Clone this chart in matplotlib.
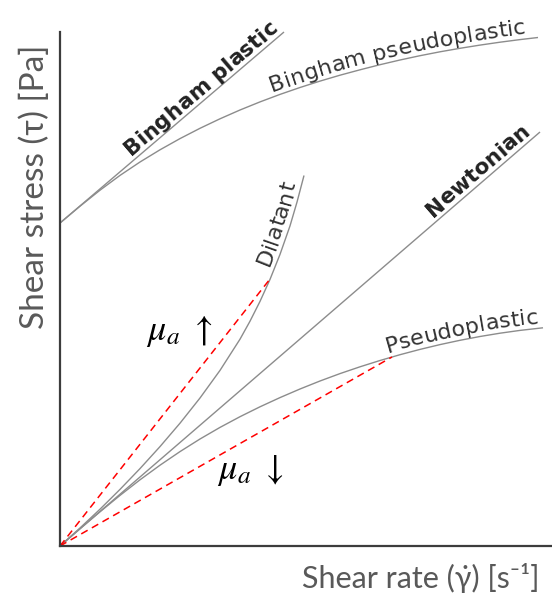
import numpy as np
import matplotlib
matplotlib.use("Agg")
import matplotlib.pyplot as plt
from matplotlib.font_manager import FontProperties, findfont, get_font

# curve data (shear rate, shear stress), arbitrary units
NEWTON_X = [0, 480]
NEWTON_Y = [0, 414]
BPLASTIC_X = [0, 224]
BPLASTIC_Y = [323, 514]
BPSEUDO_X = [0, 20, 40, 60, 80, 100, 120, 140, 160, 180, 200, 220, 240,
             260, 280, 300, 320, 340, 360, 380, 400, 420, 440, 460, 478]
BPSEUDO_Y = [323, 339.8, 355.8, 370.6, 384.0, 396.2, 407.4, 417.7, 427.2,
             436.0, 444.1, 451.6, 458.5, 464.9, 470.8, 476.2, 481.3, 486.0,
             490.3, 494.2, 497.7, 500.9, 503.8, 506.4, 508.5]
PSEUDO_X = [0, 20, 40, 60, 80, 100, 120, 140, 160, 180, 200, 220, 240,
            260, 280, 300, 320, 340, 360, 380, 400, 420, 440, 460, 483]
PSEUDO_Y = [0, 17.2, 34.2, 50.6, 66.2, 80.8, 94.4, 107.0, 118.6, 129.3,
            139.2, 148.4, 157.0, 165.0, 172.4, 179.2, 185.5, 191.3, 196.6,
            201.4, 205.7, 209.5, 212.8, 215.6, 218.2]
DILAT_X = [0, 20, 40, 60, 80, 100, 120, 140, 160, 180, 190, 200, 210,
           220, 230, 237, 244]
DILAT_Y = [0, 18, 36.8, 56.6, 77.4, 99.4, 122.8, 148.0, 175.6, 206.8,
           224.8, 244.6, 266.6, 291.6, 320.1, 343.9, 370.5]
# apparent viscosity secants
MU_UP_X = [0, 210]
MU_UP_Y = [0, 267]
MU_DOWN_X = [0, 332]
MU_DOWN_Y = [0, 189]

W, H = 552, 594
CURVE = "#8c8c8c"
LABEL = "#333333"


def text_along(ax, xs, ys, s, x0, off, fp, color=LABEL):
    # put each character of s on the curve, starting at x0, offset off px
    fig = ax.figure
    pts = ax.transData.transform(np.column_stack([xs, ys]))
    d = np.diff(pts, axis=0)
    cum = np.concatenate([[0], np.cumsum(np.hypot(d[:, 0], d[:, 1]))])

    def point(a):
        return np.array([np.interp(a, cum, pts[:, 0]), np.interp(a, cum, pts[:, 1])])

    px0 = ax.transData.transform((x0, 0))[0]
    pos = np.interp(px0, pts[:, 0], cum)
    font = get_font(findfont(fp))
    font.set_size(fp.get_size_in_points(), fig.dpi)
    inv = ax.transData.inverted()
    for ch in s:
        adv = font.load_char(ord(ch)).linearHoriAdvance / 65536
        a = pos + adv / 2
        p = point(a)
        p1, p2 = point(a - 6), point(a + 6)
        ang = np.arctan2(p2[1] - p1[1], p2[0] - p1[0])
        q = p + off * np.array([-np.sin(ang), np.cos(ang)])
        xd, yd = inv.transform(q)
        ax.text(xd, yd, ch, rotation=np.degrees(ang), rotation_mode="anchor",
                ha="center", va="baseline", fontproperties=fp, color=color)
        pos += adv


def main():
    fig = plt.figure(figsize=(W / 100, H / 100), dpi=100)
    ax = fig.add_axes([60 / W, 48 / H, 492 / W, 514 / H])
    ax.set_xlim(0, 492)
    ax.set_ylim(0, 514)
    for side in ["top", "right"]:
        ax.spines[side].set_visible(False)
    for side in ["left", "bottom"]:
        ax.spines[side].set_linewidth(1.6)
        ax.spines[side].set_color("#3c3c3c")
    ax.set_xticks([])
    ax.set_yticks([])

    for xs, ys in [(NEWTON_X, NEWTON_Y), (BPLASTIC_X, BPLASTIC_Y),
                   (BPSEUDO_X, BPSEUDO_Y), (PSEUDO_X, PSEUDO_Y),
                   (DILAT_X, DILAT_Y)]:
        ax.plot(xs, ys, color=CURVE, lw=1.0, clip_on=False, solid_capstyle="butt")

    for xs, ys in [(MU_UP_X, MU_UP_Y), (MU_DOWN_X, MU_DOWN_Y)]:
        ax.plot(xs, ys, color="#ff0000", lw=1.1, ls=(0, (4.8, 3.2)), clip_on=False)

    bold = FontProperties(family="DejaVu Sans", weight="bold", size=15.5)
    norm = FontProperties(family="DejaVu Sans", size=16)
    text_along(ax, BPLASTIC_X, BPLASTIC_Y, "Bingham plastic", 74, 5, bold, "#222222")
    text_along(ax, NEWTON_X, NEWTON_Y, "Newtonian", 376, 5, bold, "#222222")
    text_along(ax, BPSEUDO_X, BPSEUDO_Y, "Bingham pseudoplastic", 214, 5, norm)
    text_along(ax, PSEUDO_X, PSEUDO_Y, "Pseudoplastic", 329, 5, norm)
    text_along(ax, DILAT_X, DILAT_Y, "Dilatant", 214, 6, norm)

    lab = dict(family=["Lato", "DejaVu Sans"], color="#595959")
    fig.text(35 / W, 1 - 187 / H, "Shear stress (\u03c4) [Pa]", rotation=90,
             ha="center", va="center", size=24, **lab)
    fig.text(540 / W, 1 - 578 / H, "Shear rate (\u03b3\u0307) [s\u207b\u00b9]",
             ha="right", va="center", size=22, **lab)

    fig.text(146 / W, 1 - 340 / H, r"$\mu_a\ \uparrow$", ha="left", va="baseline",
             fontsize=26, math_fontfamily="stix")
    fig.text(217 / W, 1 - 479 / H, r"$\mu_a\ \downarrow$", ha="left", va="baseline",
             fontsize=26, math_fontfamily="stix")

    fig.savefig("out.png", dpi=100, facecolor="white")
    plt.close(fig)


if __name__ == "__main__":
    main()
